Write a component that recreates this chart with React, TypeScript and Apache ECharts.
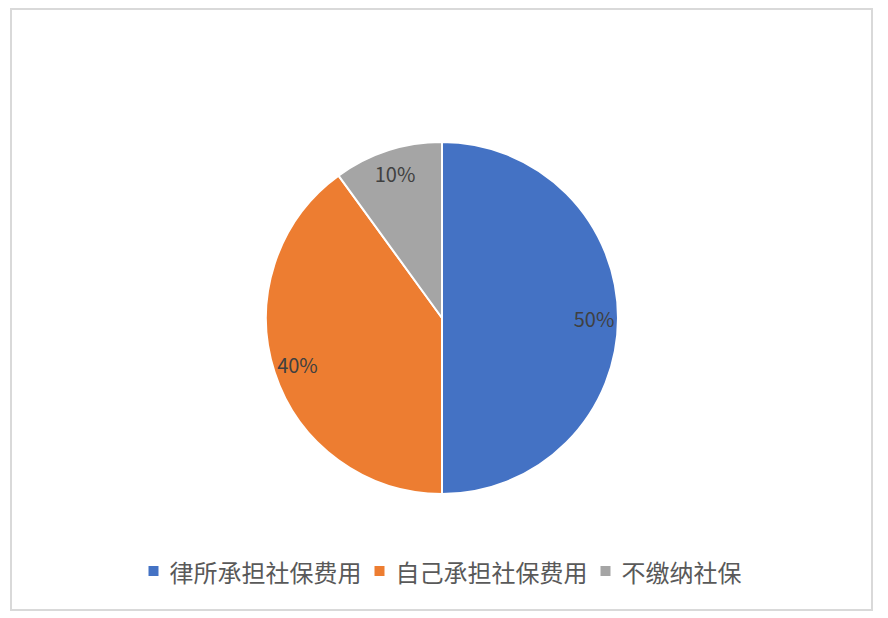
import React, { useEffect, useRef } from 'react';
import * as echarts from 'echarts';

const categories = ['律所承担社保费用', '自己承担社保费用', '不缴纳社保'];
const shares = [50, 40, 10];
const colors = ['#4472C4', '#ED7D31', '#A5A5A5'];

const FONT = '"Noto Sans CJK SC", "Noto Sans", sans-serif';

export default function App() {
  const ref = useRef<HTMLDivElement | null>(null);

  useEffect(() => {
    if (!ref.current) return undefined;
    const chart = echarts.init(ref.current, undefined, { renderer: 'svg' });

    const data = categories.map((name, i) => ({
      name,
      value: shares[i],
      itemStyle: { color: colors[i] },
    }));

    chart.setOption({
      animation: false,
      backgroundColor: '#ffffff',
      graphic: [
        {
          type: 'rect',
          shape: { x: 11, y: 9, width: 861, height: 601 },
          style: { fill: 'none', stroke: '#d9d9d9', lineWidth: 2 },
          silent: true,
        },
      ],
      legend: {
        bottom: 30,
        left: 'center',
        itemWidth: 12,
        itemHeight: 12,
        itemGap: 11,
        icon: 'rect',
        data: categories.map((name, i) => ({ name, itemStyle: { color: colors[i] } })),
        textStyle: {
          fontFamily: FONT,
          fontSize: 24,
          color: '#595959',
          padding: [0, 0, 0, 5],
        },
      },
      series: [
        {
          type: 'pie',
          center: [442, 318],
          radius: [0, 176],
          startAngle: 90,
          clockwise: true,
          data,
          label: { show: false },
          labelLine: { show: false },
          itemStyle: { borderColor: '#ffffff', borderWidth: 2 },
          emphasis: { disabled: true },
        },
        {
          // ring used only to place the percentage labels near the rim
          type: 'pie',
          center: [442, 318],
          radius: [122, 176],
          startAngle: 90,
          clockwise: true,
          silent: true,
          legendHoverLink: false,
          data: categories.map((name, i) => ({ name, value: shares[i] })),
          itemStyle: { color: 'rgba(0,0,0,0)', borderWidth: 0 },
          label: {
            show: true,
            position: 'inside',
            formatter: '{c}%',
            fontFamily: FONT,
            fontSize: 20,
            color: '#404040',
          },
          labelLine: { show: false },
          emphasis: { disabled: true },
        },
      ],
    });

    return () => {
      chart.dispose();
    };
  }, []);

  return (
    <div
      ref={ref}
      style={{ position: 'fixed', left: 0, top: 0, width: 888, height: 618 }}
    />
  );
}
